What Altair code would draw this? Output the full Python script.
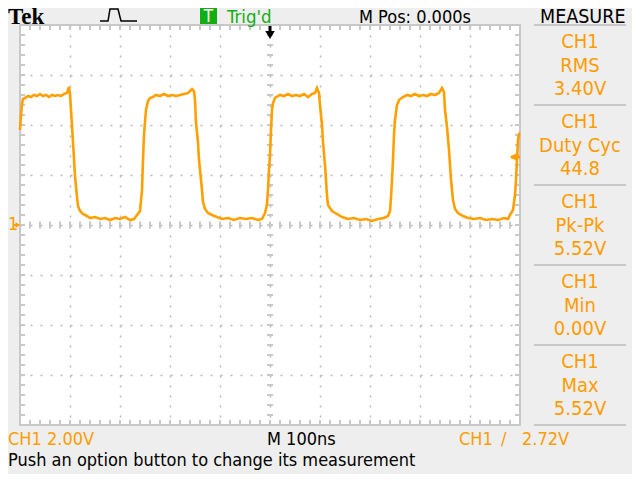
import altair as alt
import pandas as pd

# ---- waveform (time in ns, voltage in V) ----
t_ns = [-500, -498, -496, -494, -490, -484, -478, -472, -466, -460, -454, -448, -442, -436, -430, -424,
        -418, -412, -406, -402, -400, -398, -394, -390, -386, -384, -380, -374, -366, -360, -350, -340,
        -330, -320, -310, -300, -290, -280, -272, -266, -260, -256, -254, -252, -250, -248, -244, -240,
        -234, -228, -220, -212, -204, -196, -188, -180, -172, -164, -156, -152, -150, -148, -144, -142,
        -140, -136, -134, -130, -124, -116, -106, -96, -84, -72, -60, -48, -36, -24, -16, -10, -6, -4,
        -2, 0, 2, 4, 6, 10, 20, 28, 36, 44, 52, 60, 68, 76, 84, 90, 94, 98, 100, 104, 106, 110, 112, 114,
        116, 124, 134, 144, 156, 168, 180, 192, 204, 216, 228, 236, 240, 242, 244, 246, 248, 250, 254,
        258, 266, 274, 282, 290, 298, 306, 314, 322, 330, 338, 344, 348, 350, 354, 358, 360, 362, 366,
        370, 376, 386, 396, 408, 420, 432, 444, 456, 468, 476, 480, 486, 490, 492, 494, 496, 498, 500]
volts = [3.80, 4.40, 4.84, 5.04, 5.08, 5.16, 5.12, 5.20, 5.16, 5.24, 5.16, 5.20, 5.12, 5.20, 5.16, 5.20,
         5.16, 5.24, 5.28, 5.52, 5.24, 4.60, 3.32, 1.96, 1.12, 0.76, 0.56, 0.44, 0.36, 0.28, 0.32, 0.24,
         0.28, 0.20, 0.28, 0.24, 0.32, 0.20, 0.24, 0.40, 0.56, 1.40, 2.60, 3.60, 4.12, 4.60, 4.96, 5.08,
         5.12, 5.20, 5.16, 5.24, 5.16, 5.20, 5.16, 5.20, 5.24, 5.28, 5.44, 5.36, 5.00, 4.08, 3.32, 2.60,
         2.20, 1.40, 0.92, 0.64, 0.48, 0.40, 0.32, 0.24, 0.28, 0.20, 0.28, 0.24, 0.28, 0.20, 0.24, 0.48, 0.84, 1.40,
         2.20, 2.80, 3.80, 4.60, 4.88, 5.08, 5.20, 5.16, 5.24, 5.16, 5.20, 5.16, 5.24, 5.12, 5.24, 5.28, 5.48, 5.28, 4.80, 4.00, 3.32, 2.40, 1.80, 1.16,
         0.80, 0.56, 0.44, 0.32, 0.24, 0.28, 0.20, 0.24, 0.16, 0.24, 0.28, 0.36, 0.56, 1.08, 1.80, 2.60, 3.60, 4.20, 4.80,
         5.00, 5.12, 5.20, 5.16, 5.24, 5.16, 5.20, 5.16, 5.24, 5.20, 5.28, 5.48, 5.32, 4.60, 3.92, 3.00, 2.40, 1.80, 1.00,
         0.64, 0.48, 0.36, 0.28, 0.24, 0.28, 0.20, 0.24, 0.20, 0.28, 0.24, 0.40, 0.60, 1.20, 1.80, 2.60, 3.40, 3.64, 3.68]

# ---- scope settings / readouts ----
time_per_div = 100      # ns
volts_per_div = 2.0     # V
trigger_level = 2.72    # V
ground_level = 0.0      # V
trigger_time = 0        # ns
meas_names = ["RMS", "Duty Cyc", "Pk-Pk", "Min", "Max"]
meas_values = ["3.40V", "44.8", "5.52V", "0.00V", "5.52V"]

ORANGE = "#FFA000"
TXT_OR = "#FF9C00"
GRID = "#B8B8B8"
BORDER = "#C8C8C8"
GREEN = "#12AE12"
BG = "#EEEEEE"
FONT = "DejaVu Sans Condensed, Liberation Sans Narrow, Liberation Sans, sans-serif"

xs = alt.Scale(domain=[-5 * time_per_div, 5 * time_per_div], nice=False, zero=False)
ys = alt.Scale(domain=[-4 * volts_per_div, 4 * volts_per_div], nice=False, zero=False)

wave = pd.DataFrame({"t": t_ns, "v": volts, "i": range(len(t_ns))})

# graticule minor ticks
x_minor = [k * time_per_div / 5 for k in range(-24, 25)]
y_minor = [round(k * volts_per_div / 5, 3) for k in range(-19, 20)]
segs = []
for x in x_minor:
    segs += [(x, x, 8.0, 7.8), (x, x, -8.0, -7.8), (x, x, -0.14, 0.14)]
for y in y_minor:
    segs += [(-500, -490, y, y), (500, 490, y, y), (-6, 6, y, y)]
ticks = pd.DataFrame(segs, columns=["x", "x2", "y", "y2"])

x_axis = alt.Axis(values=[-400, -300, -200, -100, 0, 100, 200, 300, 400], grid=True, gridColor=GRID,
                  gridDash=[2, 8], gridWidth=1.5, labels=False, ticks=False, domain=False, title=None)
y_axis = alt.Axis(values=[-6, -4, -2, 0, 2, 4, 6], grid=True, gridColor=GRID,
                  gridDash=[2, 8], gridWidth=1.5, labels=False, ticks=False, domain=False, title=None)


def X(field):
    return alt.X(field, type="quantitative", scale=xs, axis=x_axis)


def Y(field):
    return alt.Y(field, type="quantitative", scale=ys, axis=y_axis)


tick_layer = alt.Chart(ticks).mark_rule(color=BORDER, strokeWidth=2).encode(
    x=X("x"), x2="x2:Q", y=Y("y"), y2="y2:Q")

wave_layer = alt.Chart(wave).mark_line(color=ORANGE, strokeWidth=2.6).encode(
    x=X("t"), y=Y("v"), order="i:Q")

# trigger position marker (top)
tp = pd.DataFrame({"t": [trigger_time]})
tp_stem = alt.Chart(tp).mark_rule(color="black", strokeWidth=3).encode(
    x=X("t"), y=alt.value(1), y2=alt.value(9))
tp_head = alt.Chart(tp).mark_point(shape="triangle-down", filled=True, color="black", size=90, opacity=1).encode(
    x=X("t"), y=alt.value(10))

# trigger level marker (right)
tl = pd.DataFrame({"v": [trigger_level]})
tl_stem = alt.Chart(tl).mark_rule(color=ORANGE, strokeWidth=3).encode(
    x=alt.value(491), x2=alt.value(500), y=Y("v"))
tl_head = alt.Chart(tl).mark_point(shape="triangle-left", filled=True, color=ORANGE, size=60, opacity=1).encode(
    x=alt.value(493), y=Y("v"))

# ground marker (left)
gd = pd.DataFrame({"v": [ground_level]})
gd_one = alt.Chart(gd).mark_text(text="1", font=FONT, fontSize=18, color=TXT_OR, align="left",
                                 baseline="middle").encode(x=alt.value(-12), y=Y("v"))
gd_stem = alt.Chart(gd).mark_rule(color=ORANGE, strokeWidth=2).encode(
    x=alt.value(-6), x2=alt.value(-1), y=Y("v"))
gd_head = alt.Chart(gd).mark_point(shape="triangle-right", filled=True, color=ORANGE, size=30, opacity=1).encode(
    x=alt.value(-2), y=Y("v"))

# measurement panel
rows = []
for k, (nm, val) in enumerate(zip(meas_names, meas_values)):
    rows += [("CH1", 23 + 80 * k), (nm, 47 + 80 * k), (val, 70 + 80 * k)]
panel = pd.DataFrame(rows, columns=["txt", "py"])
panel_layer = alt.Chart(panel).mark_text(font=FONT, fontSize=20, color=TXT_OR, align="center",
                                         baseline="alphabetic").encode(
    x=alt.value(560), y=alt.Y("py:Q", scale=None), text="txt:N")
seps = pd.DataFrame({"py": [0, 80, 160, 240, 320, 400]})
sep_layer = alt.Chart(seps).mark_rule(color=BORDER, strokeWidth=2).encode(
    x=alt.value(514), x2=alt.value(606), y=alt.Y("py:Q", scale=None))

# header / footer texts
labels = pd.DataFrame([
    ("Trig'd", 207, -2, GREEN, 18.5),
    ("M Pos: 0.000s", 339, -2, "black", 18),
    ("MEASURE", 520, -2, "black", 19.5),
    ("CH1", -12, 420, TXT_OR, 18),
    ("2.00V", 27, 420, TXT_OR, 18),
    ("M 100ns", 247, 420, "black", 18),
    ("CH1", 439, 420, TXT_OR, 18),
    ("/", 481, 420, TXT_OR, 18),
    ("2.72V", 502, 420, TXT_OR, 18),
    ("Push an option button to change its measurement", -12, 441, "black", 18),
], columns=["txt", "px", "py", "col", "fs"])
label_layer = alt.Chart(labels).mark_text(font=FONT, align="left", baseline="alphabetic").encode(
    x=alt.X("px:Q", scale=None), y=alt.Y("py:Q", scale=None), text="txt:N",
    color=alt.Color("col:N", scale=None), size=alt.Size("fs:Q", scale=None))

tek = alt.Chart(gd).mark_text(text="Tek", font="Liberation Serif", fontSize=23, fontWeight="bold",
                              color="black", align="left", baseline="alphabetic").encode(
    x=alt.value(-12), y=alt.value(-1))

tbox = alt.Chart(gd).mark_rect(color=GREEN).encode(
    x=alt.value(180), x2=alt.value(197), y=alt.value(-17), y2=alt.value(-1))
tbox_t = alt.Chart(gd).mark_text(text="T", font=FONT, fontSize=17, color="white", align="center",
                                 baseline="alphabetic").encode(x=alt.value(188.5), y=alt.value(-3))

icon = pd.DataFrame({"px": [80, 88, 90, 98, 101, 117], "py": [-4, -4, -16, -16, -4, -4], "i": range(6)})
icon_layer = alt.Chart(icon).mark_line(color="black", strokeWidth=1.5).encode(
    x=alt.X("px:Q", scale=None), y=alt.Y("py:Q", scale=None), order="i:Q")

chart = alt.layer(
    tick_layer, wave_layer, tp_stem, tp_head, tl_stem, tl_head, gd_one, gd_stem, gd_head,
    sep_layer, panel_layer, label_layer, tek, tbox, tbox_t, icon_layer
).properties(
    width=500, height=400,
    autosize=alt.AutoSizeParams(type="none"),
    padding={"left": 12, "top": 17, "right": 112, "bottom": 49},
    background=BG,
).configure_view(stroke=BORDER, strokeWidth=2, fill="white")

chart.save("out.html", embed_options={"renderer": "svg", "actions": False})
